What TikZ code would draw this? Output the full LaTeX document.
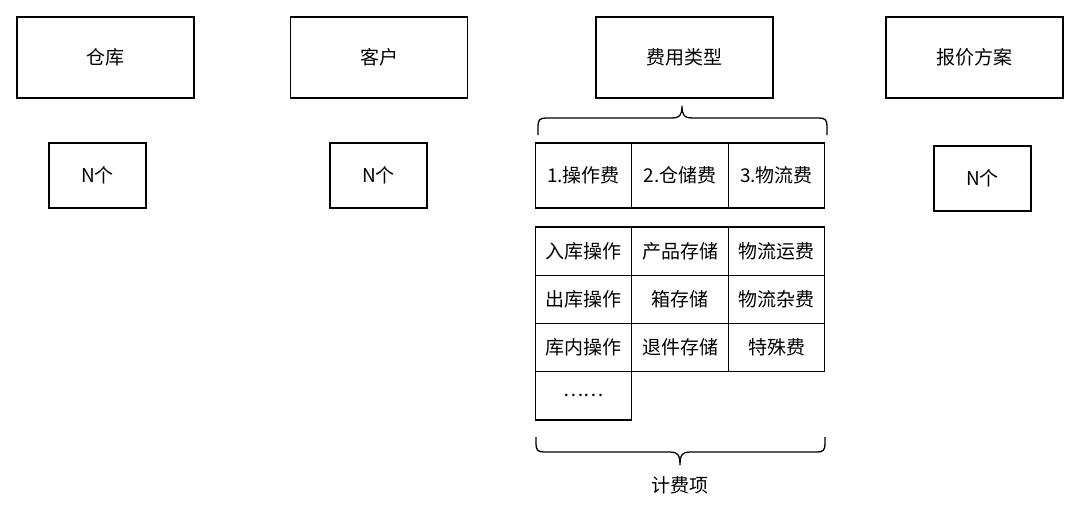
\documentclass[tikz,border=0pt]{standalone}
\usepackage{fontspec}
\setmainfont{Noto Sans CJK SC}
\begin{document}
\begin{tikzpicture}[x=1pt,y=-1pt,
  every node/.style={font=\fontsize{19}{23}\selectfont, text=black},
  box/.style={draw=black, line width=1.3pt, rectangle, inner sep=0pt, outer sep=0pt},
  bigbox/.style={box, minimum width=177pt, minimum height=81pt},
  nbox/.style={box, minimum width=97pt, minimum height=65pt},
  cell/.style={box, minimum width=96.5pt, minimum height=48.3pt},
  brace/.style={draw=black, line width=1.3pt, line join=round}]
\useasboundingbox (0,0) rectangle (1080,517);
% top boxes
\node[bigbox] (wh) at (105.5,57.5) {仓库};
\node[bigbox] (cu) at (379,57.5) {客户};
\node[bigbox] (ft) at (684.5,57.5) {费用类型};
\node[bigbox] (qp) at (974.5,57.5) {报价方案};
% N boxes
\node[nbox] (n1) at (97.5,175.5) {N个};
\node[nbox] (n2) at (378.5,175.5) {N个};
\node[nbox] (n3) at (982.5,178.5) {N个};
% fee types row
\node[box, minimum width=96.6pt, minimum height=65pt] (t1) at (583.5,175.5) {1.操作费};
\node[box, minimum width=96.6pt, minimum height=65pt] (t2) at (680,175.5) {2.仓储费};
\node[box, minimum width=96.6pt, minimum height=65pt] (t3) at (776.5,175.5) {3.物流费};
% grid
\node[cell] (c11) at (583.5,251) {入库操作};
\node[cell] (c12) at (680,251) {产品存储};
\node[cell] (c13) at (776.5,251) {物流运费};
\node[cell] (c21) at (583.5,299.3) {出库操作};
\node[cell] (c22) at (680,299.3) {箱存储};
\node[cell] (c23) at (776.5,299.3) {物流杂费};
\node[cell] (c31) at (583.5,347.6) {库内操作};
\node[cell] (c32) at (680,347.6) {退件存储};
\node[cell] (c33) at (776.5,347.6) {特殊费};
\node[cell] (c41) at (583.5,395.9) {……};
% top brace
\draw[brace] (538,135) -- (538,126) .. controls (538,120) and (540,118) .. (546,118)
  -- (672,118) .. controls (679,118) and (682,116) .. (682,106)
  .. controls (682,116) and (685,118) .. (692,118)
  -- (819,118) .. controls (825,118) and (827,120) .. (827,126) -- (827,135);
% bottom brace
\draw[brace] (536,437) -- (536,444) .. controls (536,450) and (538,452) .. (544,452)
  -- (670,452) .. controls (677,452) and (680,454) .. (680,465)
  .. controls (680,454) and (683,452) .. (690,452)
  -- (817,452) .. controls (823,452) and (825,450) .. (825,444) -- (825,437);
\node (lbl) at (680,485) {计费项};
\end{tikzpicture}
\end{document}
